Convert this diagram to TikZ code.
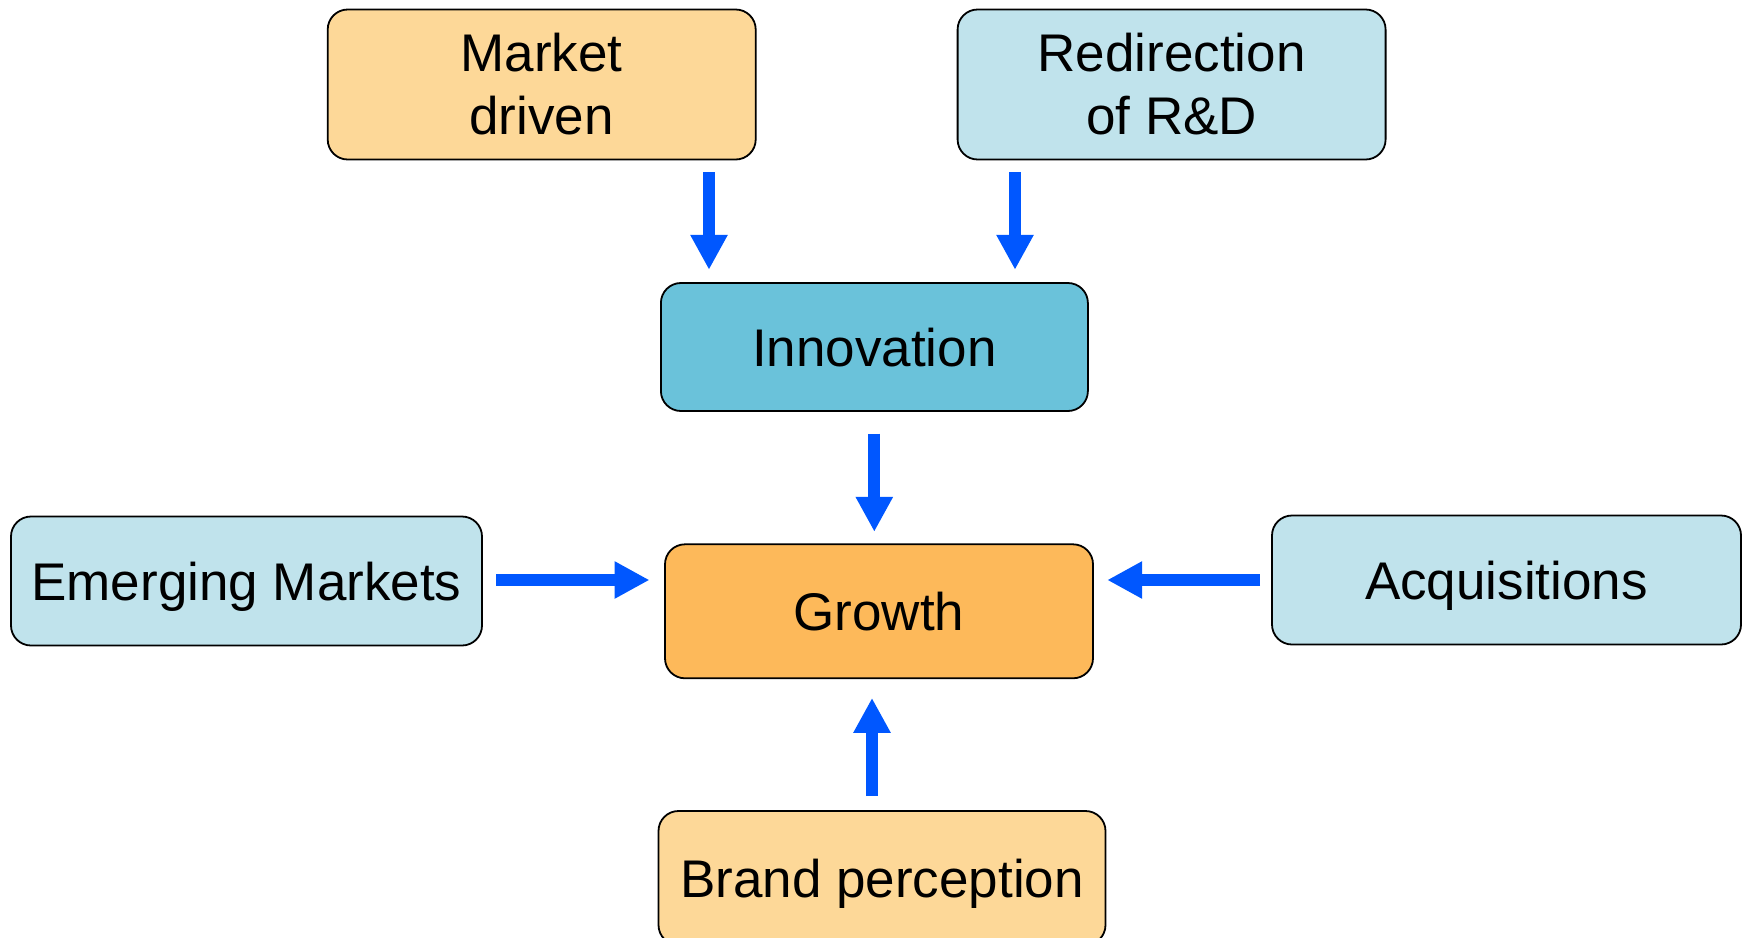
\documentclass[tikz,border=0pt]{standalone}
\usepackage{fontspec}
\setmainfont{Liberation Sans}
\usetikzlibrary{arrows.meta}
\definecolor{lightorange}{HTML}{FDD898}
\definecolor{lightblue}{HTML}{C0E3EC}
\definecolor{midblue}{HTML}{6AC2DA}
\definecolor{strongorange}{HTML}{FDB95A}
\definecolor{arrowblue}{HTML}{0057FF}
\tikzset{
  box/.style={draw=black, line width=1.8pt, rounded corners=20pt, inner sep=0pt,
    align=center, font=\fontsize{53}{63}\selectfont},
  oneline/.style={text height=38pt, text depth=0pt},
  flowarrow/.style={draw=arrowblue, line width=12pt,
    -{Triangle[width=35pt,length=35pt]}}
}
\begin{document}
\begin{tikzpicture}[x=1pt,y=-1pt]
\useasboundingbox (0,0) rectangle (1742,937);
\clip (0,0) rectangle (1742,937);
\node[box, fill=lightorange, minimum width=428pt, minimum height=150pt] (md) at (541.7,84.5) {Market\\driven};
\node[box, fill=lightblue, minimum width=428pt, minimum height=150pt] (rd) at (1171.6,84.5) {Redirection\\of R\&D};
\node[box, oneline, fill=midblue, minimum width=427pt, minimum height=128pt] (inn) at (874.4,347) {Innovation};
\node[box, oneline, fill=strongorange, minimum width=428pt, minimum height=134pt] (gr) at (879,611.3) {Growth};
\node[box, oneline, fill=lightblue, minimum width=471pt, minimum height=129pt] (em) at (246.5,581) {Emerging Markets};
\node[box, oneline, fill=lightblue, minimum width=469pt, minimum height=129pt] (acq) at (1506.5,580) {Acquisitions};
\node[box, oneline, fill=lightorange, minimum width=447pt, minimum height=134pt] (bp) at (882,878) {Brand perception};
\coordinate (c1) at (709,0);
\coordinate (c2) at (1015,0);
\coordinate (c3) at (874.3,0);
\coordinate (c4) at (0,580);
\coordinate (c6) at (872,0);
\draw[flowarrow, shorten <=12pt, shorten >=12.3pt] (md.south -| c1) -- (inn.north -| c1);
\draw[flowarrow, shorten <=12pt, shorten >=12.3pt] (rd.south -| c2) -- (inn.north -| c2);
\draw[flowarrow, shorten <=21.7pt, shorten >=11.6pt] (inn.south -| c3) -- (gr.north -| c3);
\draw[flowarrow, shorten <=13.5pt, shorten >=14.6pt] (em.east |- c4) -- (gr.west |- c4);
\draw[flowarrow, shorten <=11pt, shorten >=13.3pt] (acq.west |- c4) -- (gr.east |- c4);
\draw[flowarrow, shorten <=14pt, shorten >=18.7pt] (bp.north -| c6) -- (gr.south -| c6);
\end{tikzpicture}
\end{document}
